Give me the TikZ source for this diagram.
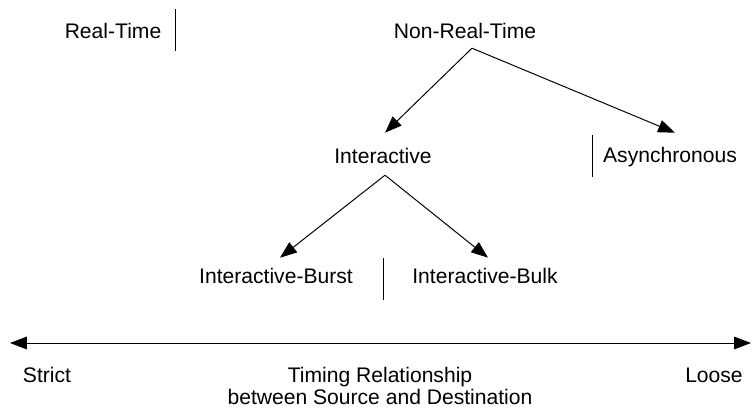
\documentclass[tikz,border=0pt]{standalone}
\usepackage{fontspec}
\setmainfont{Liberation Sans}
\usetikzlibrary{arrows.meta, calc}
\tikzset{
  lbl/.style={font=\fontsize{15}{15.6}\selectfont, inner sep=0pt, outer sep=0pt,
              anchor=base, align=center},
  arr/.style={-{Triangle[length=12pt, width=9pt]}, line width=0.7pt},
  axisarr/.style={{Triangle[length=12pt, width=9pt]}-{Triangle[length=12pt, width=9pt]},
                  line width=0.7pt},
  sepline/.style={line width=0.7pt},
}
\begin{document}
\begin{tikzpicture}[x=0.025cm, y=-0.025cm]
      \useasboundingbox (0,0) rectangle (752,408);

      \node[lbl] (rt)    at (113,38)  {Real-Time};
      \node[lbl] (nrt)   at (465,38)  {Non-Real-Time};
      \node[lbl] (int)   at (383,163) {Interactive};
      \node[lbl] (async) at (670,162) {Asynchronous};
      \node[lbl] (ib)    at (276,283) {Interactive-Burst};
      \node[lbl] (bulk)  at (485,283) {Interactive-Bulk};

      \draw[arr] ([shift={(7,10)}]nrt.south) -- ([shift={(2,-15)}]int.north);
      \draw[arr] ([shift={(7,10)}]nrt.south) -- ([shift={(5,-14)}]async.north);
      \draw[arr] ([shift={(2,12)}]int.south) -- ([shift={(4,-10)}]ib.north);
      \draw[arr] ([shift={(2,12)}]int.south) -- ([shift={(3,-10)}]bulk.north);

      % Separators
      \draw[sepline] ([shift={(14,0)}]rt.east) ++(0,-21) -- ++(0,42);
      \draw[sepline] ([shift={(-11,0)}]async.west) ++(0,-22) -- ++(0,42);
      \draw[sepline] (ib.east -| int.south) ++(0,-17) -- ++(0,42);

      % Timing axis
      \coordinate (strictend) at (10,343);
      \coordinate (looseend)  at (751,343);
      \draw[axisarr] (strictend) -- (looseend);
      \node[lbl] (strict) at (47,382)  {Strict};
      \node[lbl] (loose)  at (714,382) {Loose};
      \node[lbl] (timing) at (380,404) {Timing Relationship\\between Source and Destination};
    \end{tikzpicture}
\end{document}
